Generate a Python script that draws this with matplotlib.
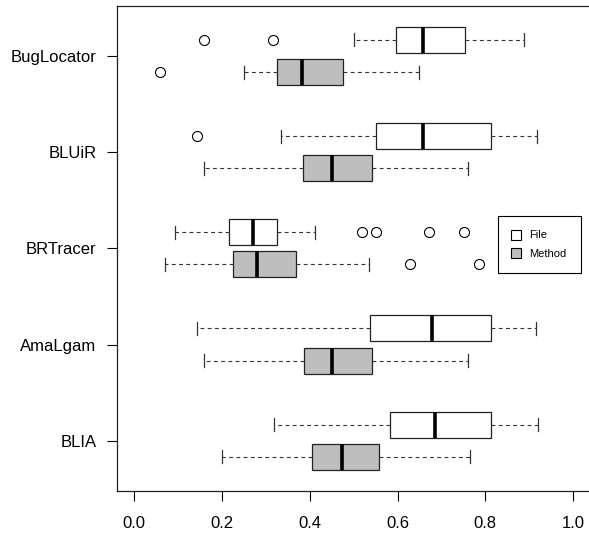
import matplotlib
matplotlib.use("Agg")
import matplotlib.pyplot as plt
from matplotlib.lines import Line2D

plt.rcParams['font.family'] = ['Liberation Sans', 'DejaVu Sans']

tools = ["BugLocator", "BLUiR", "BRTracer", "AmaLgam", "BLIA"]

# five-number summaries: (whislo, q1, med, q3, whishi)
file_stats = [
    (0.501, 0.596, 0.659, 0.754, 0.889),
    (0.334, 0.550, 0.657, 0.813, 0.917),
    (0.094, 0.217, 0.272, 0.325, 0.413),
    (0.143, 0.538, 0.679, 0.813, 0.916),
    (0.319, 0.583, 0.686, 0.813, 0.919),
]
file_outliers = [
    [0.160, 0.316],
    [0.143],
    [0.520, 0.550, 0.671, 0.751],
    [],
    [],
]
method_stats = [
    (0.250, 0.326, 0.382, 0.476, 0.649),
    (0.159, 0.384, 0.451, 0.543, 0.760),
    (0.071, 0.225, 0.279, 0.368, 0.534),
    (0.159, 0.388, 0.450, 0.543, 0.760),
    (0.200, 0.406, 0.474, 0.558, 0.765),
]
method_outliers = [
    [0.060],
    [],
    [0.628, 0.785],
    [],
    [],
]
xticks = [0.0, 0.2, 0.4, 0.6, 0.8, 1.0]
legend_labels = ["File", "Method"]

W, H = 589, 538
fig = plt.figure(figsize=(W / 100, H / 100), dpi=100)
ax = fig.add_axes([116.7 / W, 1 - 490.7 / H, 1 - 116.7 / W + 0.01, (490.7 - 6) / H])

def mk(stats, outl):
    out = []
    for (lo, q1, med, q3, hi), fl in zip(stats, outl):
        out.append(dict(whislo=lo, q1=q1, med=med, q3=q3, whishi=hi, fliers=fl))
    return out

n = len(tools)
centers = [n - i for i in range(n)]
off = 0.167
common = dict(
    vert=False, widths=0.27, patch_artist=True, manage_ticks=False,
    medianprops=dict(color="black", linewidth=2.6, solid_capstyle="butt"),
    whiskerprops=dict(color="#333333", linewidth=0.8, linestyle=(0, (3.5, 3))),
    capprops=dict(color="#333333", linewidth=0.9),
    capwidths=0.135,
    flierprops=dict(marker="o", markersize=7.2, markerfacecolor="none",
                    markeredgecolor="black", markeredgewidth=0.8, linestyle="none"),
)
ax.bxp(mk(file_stats, file_outliers), positions=[c + off for c in centers],
       boxprops=dict(facecolor="white", edgecolor="#222222", linewidth=0.9), **common)
ax.bxp(mk(method_stats, method_outliers), positions=[c - off for c in centers],
       boxprops=dict(facecolor="#BEBEBE", edgecolor="#222222", linewidth=0.9), **common)

x0 = (116.7 - 134) / 439.3
x1 = (W + 6 - 134) / 439.3
ax.set_xlim(x0, x1)
ax.set_ylim(0.48, 5.52)
ax.set_xticks(xticks)
ax.set_xticklabels([f"{t:.1f}" for t in xticks])
ax.set_yticks(centers)
ax.set_yticklabels(tools)
ax.tick_params(axis="both", direction="out", length=7.5, width=0.8, labelsize=12, colors="black")
ax.tick_params(axis="x", pad=11)
ax.tick_params(axis="y", pad=7)
for s in ["left", "top", "bottom"]:
    ax.spines[s].set_linewidth(0.9)
    ax.spines[s].set_color("#222222")
ax.spines["right"].set_visible(False)

handles = [
    Line2D([], [], marker="s", linestyle="none", markersize=6.5, markerfacecolor="white",
           markeredgecolor="black", markeredgewidth=0.8),
    Line2D([], [], marker="s", linestyle="none", markersize=6.5, markerfacecolor="#BEBEBE",
           markeredgecolor="black", markeredgewidth=0.8),
]
leg = fig.legend(handles, legend_labels, loc="upper left",
                 bbox_to_anchor=(498.3 / W, 1 - 216 / H), bbox_transform=fig.transFigure,
                 fancybox=False, frameon=True, edgecolor="black", fontsize=8,
                 handlelength=0.5, handletextpad=1.0, labelspacing=0.75,
                 borderpad=1.3, borderaxespad=0, framealpha=1)
leg.get_frame().set_linewidth(0.8)

fig.savefig("out.png", dpi=100)
